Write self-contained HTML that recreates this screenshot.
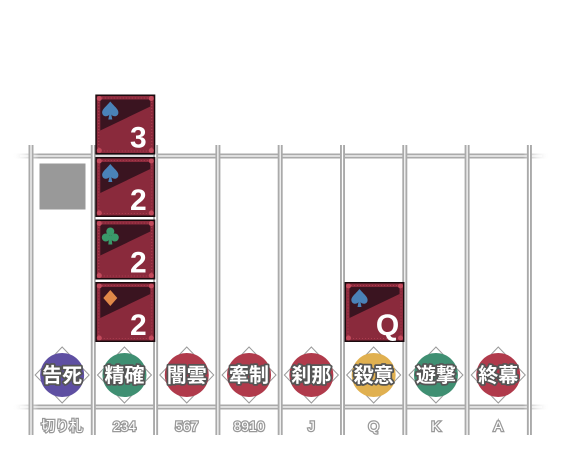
<!DOCTYPE html>
<html><head><meta charset="utf-8"><style>
html,body{margin:0;padding:0;background:#fff;width:562px;height:468px;overflow:hidden}
svg text{font-family:"Liberation Sans","Noto Sans CJK JP",sans-serif}
</style></head><body>
<svg id="c" width="562" height="468" xmlns="http://www.w3.org/2000/svg">
<defs>
<linearGradient id="hl" x1="0" y1="0" x2="1" y2="0"><stop offset="0" stop-color="#fff" stop-opacity="0"/><stop offset="0.05" stop-color="#aaa"/><stop offset="0.95" stop-color="#aaa"/><stop offset="1" stop-color="#fff" stop-opacity="0"/></linearGradient>
</defs>
</svg>
<script>
const categories=["告死","精確","闇雲","牽制","刹那","殺意","遊撃","終幕"];
const rankLabels=["切り札","234","567","8910","J","Q","K","A"];
const badgeColors=["#5e4fa2","#3f8f72","#b03a4b","#b03a4b","#b03a4b","#e0b050","#3f8f72","#b03a4b"];
const cardColumn=[1,1,1,1,5];
const cardSuit=["diamond","club","spade","spade","spade"];
const cardRank=["2","2","2","3","Q"];
const NS="http://www.w3.org/2000/svg";
const svg=document.getElementById('c');
const colX=i=>31+i*62.3;
const colW=62.3;
const cx=i=>colX(i)+colW/2;
const cardY=level=>282-level*62.5;
function mk(t,a,p){const e=document.createElementNS(NS,t);for(const k in a)e.setAttribute(k,a[k]);(p||svg).appendChild(e);return e;}
const g=mk('g',{});


[156,407].forEach(y=>{mk('rect',{x:12,y:y-2.5,width:538,height:5,fill:'url(#hl)'},g);mk('line',{x1:20,y1:y,x2:542,y2:y,stroke:'#fff','stroke-width':1.2},g);});
for(let i=0;i<=8;i++){const x=colX(i);mk('rect',{x:x-2.5,y:145,width:5,height:290,fill:'#aaa'},g);mk('line',{x1:x,y1:145,x2:x,y2:435,stroke:'#fff','stroke-width':1.2},g);}
const ph=mk('rect',{x:39,y:163,width:47,height:47,fill:'#999',stroke:'#fff'});


categories.forEach((c,i)=>{
 const x=cx(i),y=375;
 const b=mk('g',{});
 
 
 mk('polygon',{points:`${x},${y-28} ${x+27},${y} ${x},${y+28} ${x-27},${y}`,fill:'#fff',stroke:'#999','stroke-width':1},b);
 mk('circle',{cx:x,cy:y,r:22,fill:badgeColors[i]},b);
 const t=mk('text',{x:x,y:y+7,'text-anchor':'middle','font-size':20,'font-weight':'bold',fill:'#fff',stroke:'#555','stroke-width':3.5,'paint-order':'stroke','stroke-linejoin':'round'},b);
 t.textContent=c;
 const r=mk('text',{x:x,y:431,'text-anchor':'middle','font-size':14,fill:'#fff',stroke:'#999','stroke-width':2.5,'paint-order':'stroke'});
 
 
 r.textContent=rankLabels[i];
});
const lvl={};
cardColumn.forEach((col,k)=>{
 const L=lvl[col]||0;lvl[col]=L+1;
 const x=colX(col)+2,y=cardY(L),w=60,h=60;
 const cg=mk('g',{});
 
 
 mk('rect',{x:x,y:y,width:w,height:h,fill:'#1a0a0e'},cg);
 mk('rect',{x:x+1.5,y:y+1.5,width:w-3,height:h-3,fill:'#8a2a3c'},cg);
 mk('polygon',{points:`${x+5},${y+5} ${x+w-5},${y+5} ${x+w-5},${y+12} ${x+5},${y+36}`,fill:'#3a1420'},cg);
 mk('rect',{x:x+3.5,y:y+3.5,width:w-7,height:h-7,fill:'none',stroke:'#b84456','stroke-width':0.8,'stroke-dasharray':'1 2'},cg);
 [[x+4,y+4],[x+w-4,y+4],[x+4,y+h-4],[x+w-4,y+h-4]].forEach(p=>mk('circle',{cx:p[0],cy:p[1],r:2.5,fill:'#c24a5c'},cg));
 const sx=x+15,sy=y+16;
 const s=cardSuit[k];
 if(s==='spade'){mk('path',{d:`M${sx},${sy-9} C${sx+4},${sy-4} ${sx+9},${sy-1} ${sx+8},${sy+3} C${sx+7},${sy+7} ${sx+2},${sy+6} ${sx+1},${sy+4} L${sx+2},${sy+9} L${sx-2},${sy+9} L${sx-1},${sy+4} C${sx-2},${sy+6} ${sx-7},${sy+7} ${sx-8},${sy+3} C${sx-9},${sy-1} ${sx-4},${sy-4} ${sx},${sy-9}Z`,fill:'#4a82b8'},cg);}
 else if(s==='club'){const f='#3a9a6a';mk('circle',{cx:sx,cy:sy-4,r:4,fill:f},cg);mk('circle',{cx:sx-4.5,cy:sy+2,r:4,fill:f},cg);mk('circle',{cx:sx+4.5,cy:sy+2,r:4,fill:f},cg);mk('polygon',{points:`${sx-1},${sy} ${sx+1},${sy} ${sx+2},${sy+9} ${sx-2},${sy+9}`,fill:f},cg);}
 else {mk('polygon',{points:`${sx},${sy-8} ${sx+7},${sy} ${sx},${sy+8} ${sx-7},${sy}`,fill:'#e08848'},cg);}
 const t=mk('text',{x:x+43,y:y+53,'text-anchor':'middle','font-size':30,'font-weight':'bold',fill:'#fff'},cg);
 t.textContent=cardRank[k];
});
</script>
</body></html>
